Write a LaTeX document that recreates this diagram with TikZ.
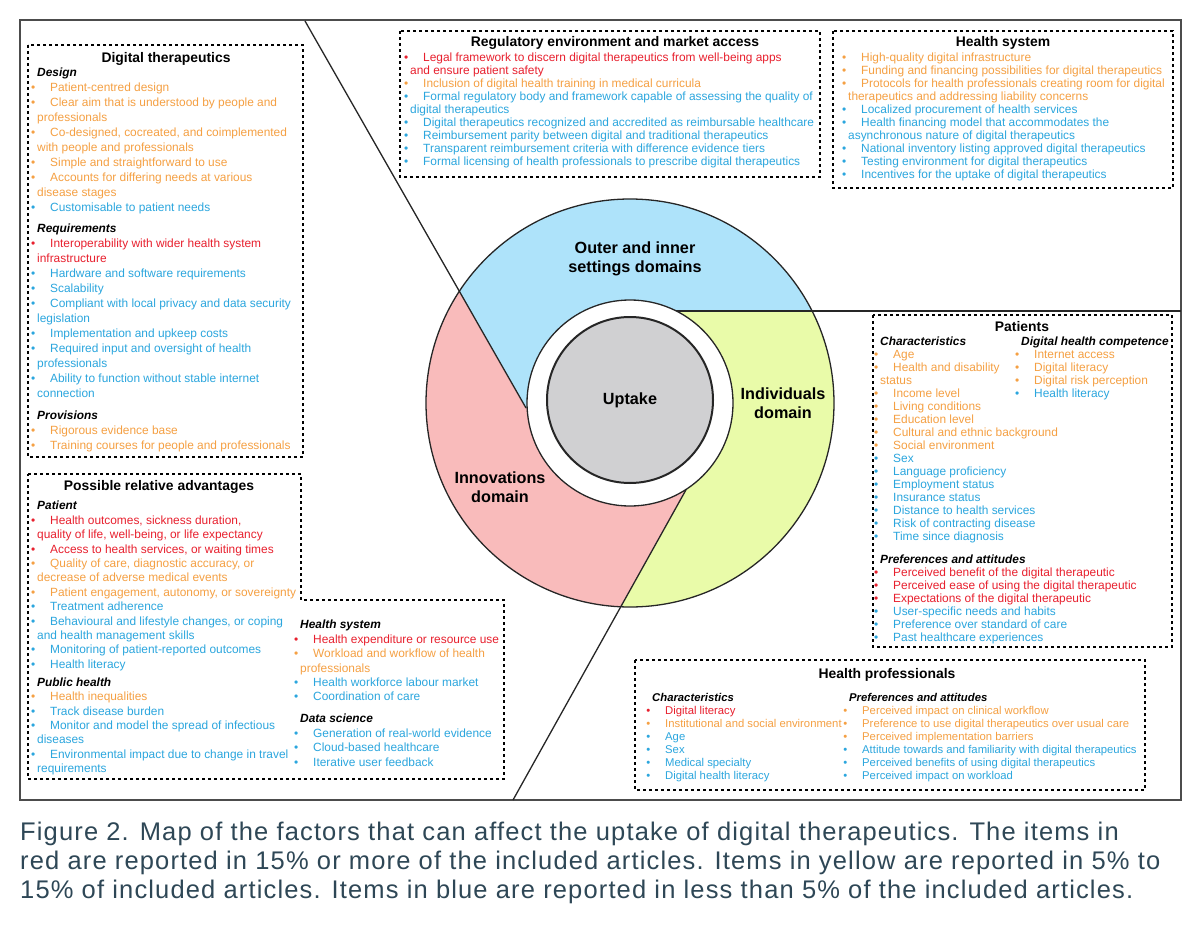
\documentclass[tikz,border=0pt]{standalone}
\usepackage{fontspec}
\setmainfont{Liberation Sans}
\definecolor{cR}{HTML}{E8202E}
\definecolor{cO}{HTML}{F5A043}
\definecolor{cB}{HTML}{2BA6DE}
\definecolor{fBlue}{HTML}{AEE3FA}
\definecolor{fPink}{HTML}{F9BBBB}
\definecolor{fGreen}{HTML}{E9FBA9}
\definecolor{fGray}{HTML}{D0D0D2}
\definecolor{capc}{HTML}{2E4756}
\newcommand\itR[1]{\textcolor{cR}{\llap{\textbullet\hspace{2pt}}\hspace*{13pt}#1}}
\newcommand\itO[1]{\textcolor{cO}{\llap{\textbullet\hspace{2pt}}\hspace*{13pt}#1}}
\newcommand\itB[1]{\textcolor{cB}{\llap{\textbullet\hspace{2pt}}\hspace*{13pt}#1}}
\newcommand\cR[1]{\textcolor{cR}{#1}}
\newcommand\cO[1]{\textcolor{cO}{#1}}
\newcommand\cB[1]{\textcolor{cB}{#1}}
\newcommand\hd[1]{\textbf{\textit{#1}}}
\begin{document}
\begin{tikzpicture}[x=1pt,y=-1pt,
  dbox/.style={draw=black,line width=1.4pt,dash pattern=on 3pt off 3pt},
  txt/.style={anchor=north west,inner sep=0pt,align=left,font=\fontsize{11.9}{#1}\selectfont},
  txs/.style={anchor=north west,inner sep=0pt,align=left,font=\fontsize{11.3}{#1}\selectfont},
  ttl/.style={anchor=base,inner sep=0pt,font=\fontsize{13.9}{15}\selectfont\bfseries},
  dom/.style={inner sep=0pt,align=center,font=\fontsize{16.2}{19}\selectfont\bfseries},
  ln/.style={line width=1.3pt,black!85}]
\useasboundingbox (0,0) rectangle (1200,926);
\fill[white] (0,0) rectangle (1200,926);
\draw[line width=1.2pt,black!70] (20,20) rectangle (1181,800);
% circle regions
\begin{scope}
\clip (630,403) circle (204);
\fill[fGreen] (630,403) circle (204);
\fill[fBlue] (305,22) -- (526,408) -- (630,403) -- (676,311) -- (1180,311) -- (1180,0) -- (305,0) -- cycle;
\fill[fPink] (305,22) -- (526,408) -- (630,403) -- (687,488) -- (513,800) -- (0,800) -- (0,22) -- cycle;
\end{scope}
\draw[ln] (305,21) -- (526,408);
\draw[ln] (676,311) -- (1181,311);
\draw[ln] (687,488) -- (513,800);
\node[circle,draw=black!85,line width=1.3pt,minimum size=408pt,inner sep=0pt] (outer) at (630,403) {};
\node[circle,draw=black!85,fill=white,line width=1.3pt,minimum size=206pt,inner sep=0pt] (ring) at (630,403) {};
\node[circle,draw=black!85,fill=fGray,line width=2pt,minimum size=166pt,inner sep=0pt,font=\fontsize{16.2}{19}\selectfont\bfseries] (uptake) at (630,400) {Uptake};
\node[dom] (d1) at (635,259) {Outer and inner\\settings domains};
\node[dom] (d2) at (783,403) {Individuals\\domain};
\node[dom] (d3) at (500,487) {Innovations\\domain};
% dashed boxes
\draw[dbox] (28,45) rectangle (303,457);
\draw[dbox] (28,474) -- (301,474) -- (301,600) -- (504,600) -- (504,779) -- (28,779) -- cycle;
\draw[dbox] (400,31) rectangle (820,177);
\draw[dbox] (833,31) rectangle (1173,188);
\draw[dbox] (873,315) rectangle (1172,647);
\draw[dbox] (635,660) rectangle (1145,790);
% Digital therapeutics
\node[ttl] (t1) at (166,62) {Digital therapeutics};
\node[txt=15] (b1) at (37,68) {\hd{Design}\\
\itO{Patient-centred design}\\
\itO{Clear aim that is understood by people and}\\
\cO{professionals}\\
\itO{Co-designed, cocreated, and coimplemented}\\
\cO{with people and professionals}\\
\itO{Simple and straightforward to use}\\
\itO{Accounts for differing needs at various}\\
\cO{disease stages}\\
\itB{Customisable to patient needs}\\[6pt]
\hd{Requirements}\\
\itR{Interoperability with wider health system}\\
\cR{infrastructure}\\
\itB{Hardware and software requirements}\\
\itB{Scalability}\\
\itB{Compliant with local privacy and data security}\\
\cB{legislation}\\
\itB{Implementation and upkeep costs}\\
\itB{Required input and oversight of health}\\
\cB{professionals}\\
\itB{Ability to function without stable internet}\\
\cB{connection}\\[7pt]
\hd{Provisions}\\
\itO{Rigorous evidence base}\\
\itO{Training courses for people and professionals}};
% Possible relative advantages
\node[ttl] (t2) at (159,490) {Possible relative advantages};
\node[txt=14.4] (b2) at (37,501) {\hd{Patient}\\
\itR{Health outcomes, sickness duration,}\\
\cR{quality of life, well-being, or life expectancy}\\
\itR{Access to health services, or waiting times}\\
\itO{Quality of care, diagnostic accuracy, or}\\
\cO{decrease of adverse medical events}\\
\itO{Patient engagement, autonomy, or sovereignty}\\
\itB{Treatment adherence}\\
\itB{Behavioural and lifestyle changes, or coping}\\
\cB{and health management skills}\\
\itB{Monitoring of patient-reported outcomes}\\
\itB{Health literacy}\\[3.6pt]
\hd{Public health}\\
\itO{Health inequalities}\\
\itB{Track disease burden}\\
\itB{Monitor and model the spread of infectious}\\
\cB{diseases}\\
\itB{Environmental impact due to change in travel}\\
\cB{requirements}};
\node[txt=14.4] (b3) at (300,620) {\hd{Health system}\\
\itR{Health expenditure or resource use}\\
\itO{Workload and workflow of health}\\
\cO{professionals}\\
\itB{Health workforce labour market}\\
\itB{Coordination of care}\\[7.6pt]
\hd{Data science}\\
\itB{Generation of real-world evidence}\\
\itB{Cloud-based healthcare}\\
\itB{Iterative user feedback}};
% Regulatory
\node[ttl] (t4) at (615,46) {Regulatory environment and market access};
\node[txt=13] (b4) at (410,53) {\itR{Legal framework to discern digital therapeutics from well-being apps}\\
\cR{and ensure patient safety}\\
\itO{Inclusion of digital health training in medical curricula}\\
\itB{Formal regulatory body and framework capable of assessing the quality of}\\
\cB{digital therapeutics}\\
\itB{Digital therapeutics recognized and accredited as reimbursable healthcare}\\
\itB{Reimbursement parity between digital and traditional therapeutics}\\
\itB{Transparent reimbursement criteria with difference evidence tiers}\\
\itB{Formal licensing of health professionals to prescribe digital therapeutics}};
% Health system top right
\node[ttl] (t5) at (1003,46) {Health system};
\node[txt=13] (b5) at (848,53) {\itO{High-quality digital infrastructure}\\
\itO{Funding and financing possibilities for digital therapeutics}\\
\itO{Protocols for health professionals creating room for digital}\\
\cO{therapeutics and addressing liability concerns}\\
\itB{Localized procurement of health services}\\
\itB{Health financing model that accommodates the}\\
\cB{asynchronous nature of digital therapeutics}\\
\itB{National inventory listing approved digital therapeutics}\\
\itB{Testing environment for digital therapeutics}\\
\itB{Incentives for the uptake of digital therapeutics}};
% Patients
\node[ttl] (t6) at (1022,331) {Patients};
\node[txt=13] (b6) at (880,337) {\hd{Characteristics}\\
\itO{Age}\\
\itO{Health and disability}\\
\cO{status}\\
\itO{Income level}\\
\itO{Living conditions}\\
\itO{Education level}\\
\itO{Cultural and ethnic background}\\
\itO{Social environment}\\
\itB{Sex}\\
\itB{Language proficiency}\\
\itB{Employment status}\\
\itB{Insurance status}\\
\itB{Distance to health services}\\
\itB{Risk of contracting disease}\\
\itB{Time since diagnosis}\\[10pt]
\hd{Preferences and attitudes}\\
\itR{Perceived benefit of the digital therapeutic}\\
\itR{Perceived ease of using the digital therapeutic}\\
\itR{Expectations of the digital therapeutic}\\
\itB{User-specific needs and habits}\\
\itB{Preference over standard of care}\\
\itB{Past healthcare experiences}};
\node[txt=13] (b7) at (1021,337) {\hd{Digital health competence}\\
\itO{Internet access}\\
\itO{Digital literacy}\\
\itO{Digital risk perception}\\
\itB{Health literacy}};
% Health professionals
\node[ttl] (t8) at (887,678) {Health professionals};
\node[txs=13] (b8) at (652,693) {\hd{Characteristics}\\
\itR{Digital literacy}\\
\itO{Institutional and social environment}\\
\itB{Age}\\
\itB{Sex}\\
\itB{Medical specialty}\\
\itB{Digital health literacy}};
\node[txs=13] (b9) at (849,693) {\hd{Preferences and attitudes}\\
\itO{Perceived impact on clinical workflow}\\
\itO{Preference to use digital therapeutics over usual care}\\
\itO{Perceived implementation barriers}\\
\itB{Attitude towards and familiarity with digital therapeutics}\\
\itB{Perceived benefits of using digital therapeutics}\\
\itB{Perceived impact on workload}};
% caption
\node[anchor=north west,inner sep=0pt,align=left,text=capc,font=\fontsize{25.5}{29}\selectfont\addfontfeatures{LetterSpace=4.5}] (cap) at (20,822) {Figure 2. Map of the factors that can affect the uptake of digital therapeutics. The items in\\
red are reported in 15\% or more of the included articles. Items in yellow are reported in 5\% to\\
15\% of included articles. Items in blue are reported in less than 5\% of the included articles.};
\end{tikzpicture}
\end{document}
